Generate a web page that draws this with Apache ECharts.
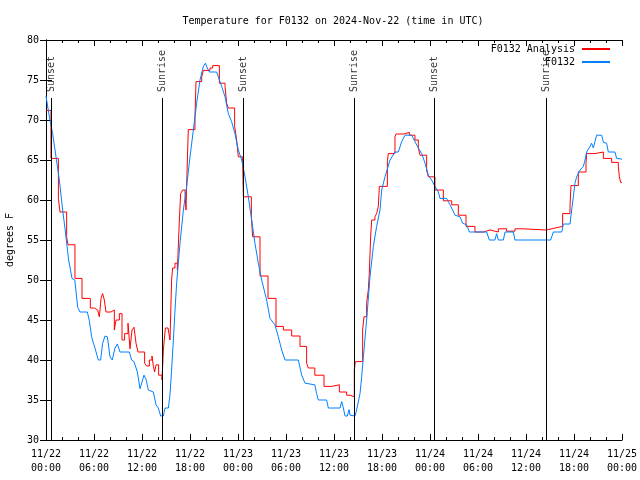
<!DOCTYPE html>
<html>
<head>
<meta charset="utf-8">
<script src="https://cdn.jsdelivr.net/npm/echarts@6/dist/echarts.min.js"></script>
<style>html,body{margin:0;padding:0;background:#fff}#c{width:640px;height:480px}</style>
</head>
<body>
<div id="c"></div>
<script>
var chartTitle = 'Temperature for F0132 on 2024-Nov-22 (time in UTC)';
var xTickLabels = ['11/22\n00:00','11/22\n06:00','11/22\n12:00','11/22\n18:00','11/23\n00:00','11/23\n06:00','11/23\n12:00','11/23\n18:00','11/24\n00:00','11/24\n06:00','11/24\n12:00','11/24\n18:00','11/25\n00:00'];
var sunHours = [0.71, 14.57, 24.67, 38.54, 48.54, 62.52];
var sunNames = ['Sunset','Sunrise','Sunset','Sunrise','Sunset','Sunrise'];

var redHours = [0,0.62,1.55,1.75,2.58,2.75,3.62,4.5,5.54,6.04,6.46,6.67,6.88,7.08,7.29,7.5,8.12,8.54,8.75,9.17,9.5,9.83,10.25,10.5,10.75,11.0,11.25,11.5,12.33,12.58,12.92,13.25,13.42,13.58,13.75,14.08,14.5,14.67,14.92,15.25,15.5,15.7,15.83,16.12,16.42,16.67,16.83,17.08,17.38,17.5,17.58,17.71,17.79,18.62,18.75,19.46,19.67,20.5,20.83,21.67,22.38,22.58,22.79,23.58,23.83,24.04,24.58,24.67,25.67,25.83,26.75,27.75,28.75,29.67,30.71,31.75,32.58,32.79,33.6,34.75,35.7,36.67,37.58,38.0,38.54,38.67,39.58,39.75,40.08,40.29,40.42,40.58,40.71,41.12,41.33,41.54,41.67,42.67,42.79,43.62,43.75,44.75,45.42,46.12,46.54,46.75,47.58,47.79,48.62,49.67,50.71,51.54,52.5,53.62,54.67,55.5,56.54,57.58,58.62,59.58,62.58,63.62,64.58,65.5,65.62,66.54,67.5,67.58,68.62,69.67,70.71,71.54,71.67,71.83,72];
var redTemps = [71.2,65.2,60.2,58.5,55.4,54.4,50.2,47.7,46.5,46.25,46.0,45.4,47.7,48.3,47.5,46.0,46.25,43.75,45.0,45.8,42.5,43.3,44.6,41.4,43.75,44.1,42.1,41.0,39.6,39.25,40.0,40.5,39.2,38.5,39.4,38.1,37.5,41.25,44.0,43.75,42.5,50.0,51.5,52.1,51.25,57.5,60.8,61.25,60.8,58.75,61.7,66.25,68.8,70.4,74.8,75.4,76.2,76.5,76.8,74.6,74.2,72.1,71.5,69.2,67.5,65.4,65.0,60.4,57.9,55.4,50.5,47.7,44.2,43.75,43.0,41.7,39.6,39.0,38.1,36.7,36.9,36.0,35.6,35.4,38.75,39.8,43.75,45.4,47.1,48.75,51.0,55.4,57.5,57.9,58.3,59.2,61.7,64.8,65.8,67.9,68.25,68.45,68.1,67.5,66.5,65.6,63.75,62.9,61.25,59.9,59.4,58.1,56.7,56.0,56.25,56.0,56.4,56.1,56.4,56.25,56.5,56.7,58.3,59.25,61.8,63.5,64.6,65.8,66.0,65.2,64.7,64.2,62.9,62.2,62.2];

var blueHours = [0,0.42,0.83,1.25,1.67,2.08,2.4,2.83,3.25,3.6,3.96,4.25,5.17,5.42,5.7,6.12,6.54,6.83,7.08,7.38,7.67,8.0,8.29,8.62,8.92,9.25,10.42,10.7,11.0,11.42,11.75,12.0,12.25,12.5,12.79,13.42,13.75,14.04,14.33,14.67,14.88,15.3,15.5,15.7,15.92,16.1,16.33,16.54,16.75,17.17,17.58,18.0,18.42,18.83,19.25,19.67,19.92,20.17,20.42,21.33,21.67,21.96,22.38,22.79,23.2,23.62,24.04,24.46,24.88,25.29,25.71,26.12,26.54,26.96,27.58,28.0,28.62,29.04,29.46,29.88,31.54,31.96,32.38,33.0,33.6,33.83,34.04,35.08,35.29,36.75,36.96,37.17,37.38,37.67,37.88,38.0,38.62,38.83,39.25,39.46,39.67,40.08,40.5,40.92,41.33,41.75,41.96,42.38,43.0,43.62,44.04,44.46,44.88,45.71,46.12,46.54,46.96,47.38,47.79,48.2,48.62,49.04,49.25,50.08,50.29,50.71,51.12,51.75,52.08,52.58,52.92,55.08,55.42,56.12,56.33,56.54,57.17,57.38,58.42,58.62,63.08,63.42,64.46,64.67,65.5,65.71,65.92,66.12,66.33,66.75,67.17,67.38,67.58,68.0,68.2,68.42,68.62,68.83,69.46,69.67,70.08,70.29,71.12,71.33,72];
var blueTemps = [73.0,70.4,68.3,65.4,62.5,58.75,56.25,52.5,50.2,50.0,46.6,46.0,46.0,44.9,42.9,41.5,40.0,40.0,42.1,43.0,42.9,40.4,40.0,41.5,42.0,41.0,41.0,40.0,39.8,38.5,36.4,36.4,38.1,37.6,36.25,36.0,34.4,34.0,33.0,33.0,34.0,34.0,35.7,38.75,42.5,45.8,49.6,52.1,54.6,58.75,61.7,65.4,68.75,72.1,75.0,76.7,77.1,76.5,76.0,76.0,75.0,74.2,72.9,70.8,69.8,68.3,66.25,65.0,62.9,60.4,57.5,54.6,52.1,50.0,47.5,45.2,44.4,42.9,41.25,40.0,40.0,38.1,37.1,37.0,36.9,35.8,35.0,35.0,34.0,34.0,34.8,34.0,33.0,33.0,33.8,33.1,33.0,33.75,35.8,37.9,40.4,45.0,50.4,54.2,56.7,58.75,61.25,62.9,65.0,66.0,66.0,67.3,68.1,68.1,67.3,66.5,65.8,64.6,63.1,62.5,61.7,61.0,60.2,60.2,59.8,59.0,58.1,57.9,57.1,56.9,56.0,56.0,55.0,55.0,55.8,55.0,55.0,56.0,56.0,55.0,55.0,56.0,56.0,57.0,57.0,58.75,60.4,62.1,62.9,63.75,64.2,65.0,66.0,66.7,67.1,66.5,67.3,68.1,68.1,67.2,67.1,66.0,66.0,65.2,65.1];

var FONT = 'DejaVu Sans Mono';
function zip(a, b) { return a.map(function (v, i) { return [v, b[i]]; }); }

var sunLineTop = 72.75, sunLabelY = 73.5;
var chart = echarts.init(document.getElementById('c'), null, {renderer: 'canvas'});

var axisCommon = {
  axisLine: {show: true, lineStyle: {color: '#000', width: 1}},
  axisTick: {show: true, inside: true, length: 6, lineStyle: {color: '#000'}},
  splitLine: {show: false}
};

var option = {
  animation: false,
  backgroundColor: '#fff',
  title: {
    text: chartTitle, left: 328, top: 11, textAlign: 'center',
    textStyle: {fontFamily: FONT, fontSize: 10, fontWeight: 'normal', color: '#000'}
  },
  legend: {
    data: ['F0132 Analysis', 'F0132'],
    orient: 'vertical', right: 30, top: 43, align: 'right', padding: 0,
    itemWidth: 28, itemHeight: 2, itemGap: 1, icon: 'rect',
    textStyle: {fontFamily: FONT, fontSize: 10, color: '#000', lineHeight: 12, padding: [0, 2, 0, 0]}
  },
  grid: {left: 46, right: 18, top: 40, bottom: 40, containLabel: false, outerBoundsMode: 'none'},
  xAxis: [
    Object.assign({}, axisCommon, {
      type: 'value', min: 0, max: 72, interval: 6, position: 'bottom',
      minorTick: {show: true, splitNumber: 3, length: 3, lineStyle: {color: '#000'}},
      axisLabel: {
        margin: 7, fontFamily: FONT, fontSize: 10, color: '#000', lineHeight: 14,
        formatter: function (v) { return xTickLabels[Math.round(v / 6)]; }
      }
    }),
    Object.assign({}, axisCommon, {
      type: 'value', min: 0, max: 72, interval: 6, position: 'top',
      minorTick: {show: true, splitNumber: 3, length: 3, lineStyle: {color: '#000'}},
      axisLabel: {show: false}
    })
  ],
  yAxis: [
    Object.assign({}, axisCommon, {
      type: 'value', min: 30, max: 80, interval: 5, position: 'left',
      name: 'degrees F', nameLocation: 'middle', nameGap: 31, nameRotate: 90,
      nameTextStyle: {fontFamily: FONT, fontSize: 10, color: '#000'},
      axisLabel: {margin: 7, fontFamily: FONT, fontSize: 10, color: '#000'}
    }),
    Object.assign({}, axisCommon, {
      type: 'value', min: 30, max: 80, interval: 5, position: 'right',
      axisLabel: {show: false}
    })
  ],
  series: [
    {
      name: 'F0132 Analysis', type: 'line', step: 'end', showSymbol: false,
      data: zip(redHours, redTemps), color: '#ff0000',
      lineStyle: {width: 1, color: '#ff0000'}, z: 3
    },
    {
      name: 'F0132', type: 'line', showSymbol: false,
      data: zip(blueHours, blueTemps), color: '#0080ff',
      lineStyle: {width: 1, color: '#0080ff'}, z: 4
    },
    {
      name: 'sun', type: 'scatter', symbolSize: 0, silent: true, z: 5,
      data: sunHours.map(function (h, i) { return {value: [h, sunLabelY], name: sunNames[i]}; }),
      label: {
        show: true, position: 'inside', rotate: 90, align: 'left', verticalAlign: 'middle',
        formatter: function (p) { return p.name; },
        fontFamily: FONT, fontSize: 10, color: '#000'
      },
      markLine: {
        silent: true, symbol: ['none', 'none'], animation: false,
        lineStyle: {color: '#000', width: 1, type: 'solid'},
        label: {show: false},
        data: sunHours.map(function (h) { return [{coord: [h, 30]}, {coord: [h, sunLineTop]}]; })
      }
    }
  ]
};
chart.setOption(option);
</script>
</body>
</html>
